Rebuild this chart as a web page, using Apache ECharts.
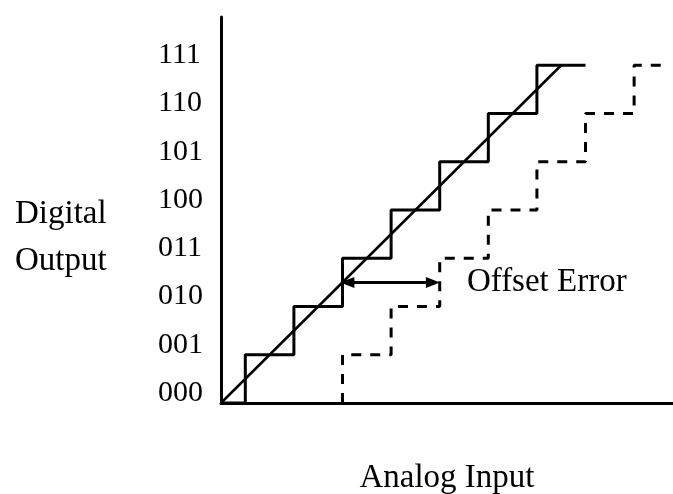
<!DOCTYPE html>
<html>
<head>
<meta charset="utf-8">
<script src="https://cdn.jsdelivr.net/npm/echarts@6/dist/echarts.min.js"></script>
<style>html,body{margin:0;padding:0;background:#fff}#c{width:673px;height:494px}</style>
</head>
<body>
<div id="c"></div>
<script>
// Output codes and their tick labels
const codes = [0, 1, 2, 3, 4, 5, 6, 7];
const codeLabels = ['000', '001', '010', '011', '100', '101', '110', '111'];
// Input values (in LSB) where the output code changes
const idealTransitions = [0.5, 1.5, 2.5, 3.5, 4.5, 5.5, 6.5];
const offsetTransitions = [2.5, 3.5, 4.5, 5.5, 6.5, 7.5, 8.5];
const idealStart = 0, idealEnd = 7.5;
const offsetStart = 2.5, offsetEnd = 9.1;
// Ideal straight transfer line
const idealLineX = [0, 7];
const idealLineY = [0, 7];
// Offset error arrow (input range at code midpoint)
const offsetArrowX = [2.6, 4.36];
const offsetArrowY = 2.5;
const offsetLabel = 'Offset Error';
const xTitle = 'Analog Input';
const yTitle = 'Digital\nOutput';

const FONT = 'Liberation Serif';

function stairs(start, transitions, end) {
  const d = [[start, codes[0]]];
  transitions.forEach((t, i) => d.push([t, codes[i + 1]]));
  d.push([end, codes[codes.length - 1]]);
  return d;
}

const chart = echarts.init(document.getElementById('c'), null, {renderer: 'canvas'});
chart.setOption({
  animation: false,
  backgroundColor: '#fff',
  title: {
    text: yTitle, left: 15, top: 191, padding: 0,
    textStyle: {fontFamily: FONT, fontSize: 33, fontWeight: 'normal', color: '#000', lineHeight: 47}
  },
  grid: {left: 221, right: 0, top: 17, bottom: 91, containLabel: false, outerBoundsMode: 'none'},
  xAxis: {
    type: 'value', min: 0, max: 9.3,
    axisLine: {show: true, onZero: false, lineStyle: {color: '#000', width: 3}},
    axisTick: {show: false}, axisLabel: {show: false}, splitLine: {show: false},
    name: xTitle, nameLocation: 'middle', nameGap: 75, nameMoveOverlap: false,
    nameTextStyle: {fontFamily: FONT, fontSize: 33, color: '#000', verticalAlign: 'middle'}
  },
  yAxis: {
    type: 'value', min: 0, max: 8, interval: 1,
    axisLine: {show: true, onZero: false, lineStyle: {color: '#000', width: 3}},
    axisTick: {show: false}, splitLine: {show: false},
    axisLabel: {
      show: true, align: 'left', margin: 63, verticalAlign: 'bottom', lineHeight: 20,
      fontFamily: FONT, fontSize: 30, color: '#000',
      formatter: v => (codes.indexOf(v) >= 0 ? codeLabels[codes.indexOf(v)] : '')
    }
  },
  series: [
    {
      type: 'line', step: 'end', symbol: 'none', clip: false,
      data: stairs(idealStart, idealTransitions, idealEnd),
      lineStyle: {color: '#000', width: 3}
    },
    {
      type: 'line', symbol: 'none', clip: false,
      data: idealLineX.map((x, i) => [x, idealLineY[i]]),
      lineStyle: {color: '#000', width: 2.5}
    },
    {
      type: 'line', step: 'end', symbol: 'none', clip: false,
      data: stairs(offsetStart, offsetTransitions, offsetEnd),
      lineStyle: {color: '#000', width: 3, type: [10, 9]},
      markLine: {
        silent: true, animation: false,
        symbol: ['triangle', 'triangle'], symbolSize: [11, 14],
        lineStyle: {color: '#000', width: 3, type: 'solid'},
        itemStyle: {color: '#000'},
        label: {show: true, position: 'end', distance: 34, formatter: offsetLabel,
                fontFamily: FONT, fontSize: 33, color: '#000'},
        data: [[{coord: [offsetArrowX[0], offsetArrowY]}, {coord: [offsetArrowX[1], offsetArrowY]}]]
      }
    }
  ]
});
</script>
</body>
</html>
